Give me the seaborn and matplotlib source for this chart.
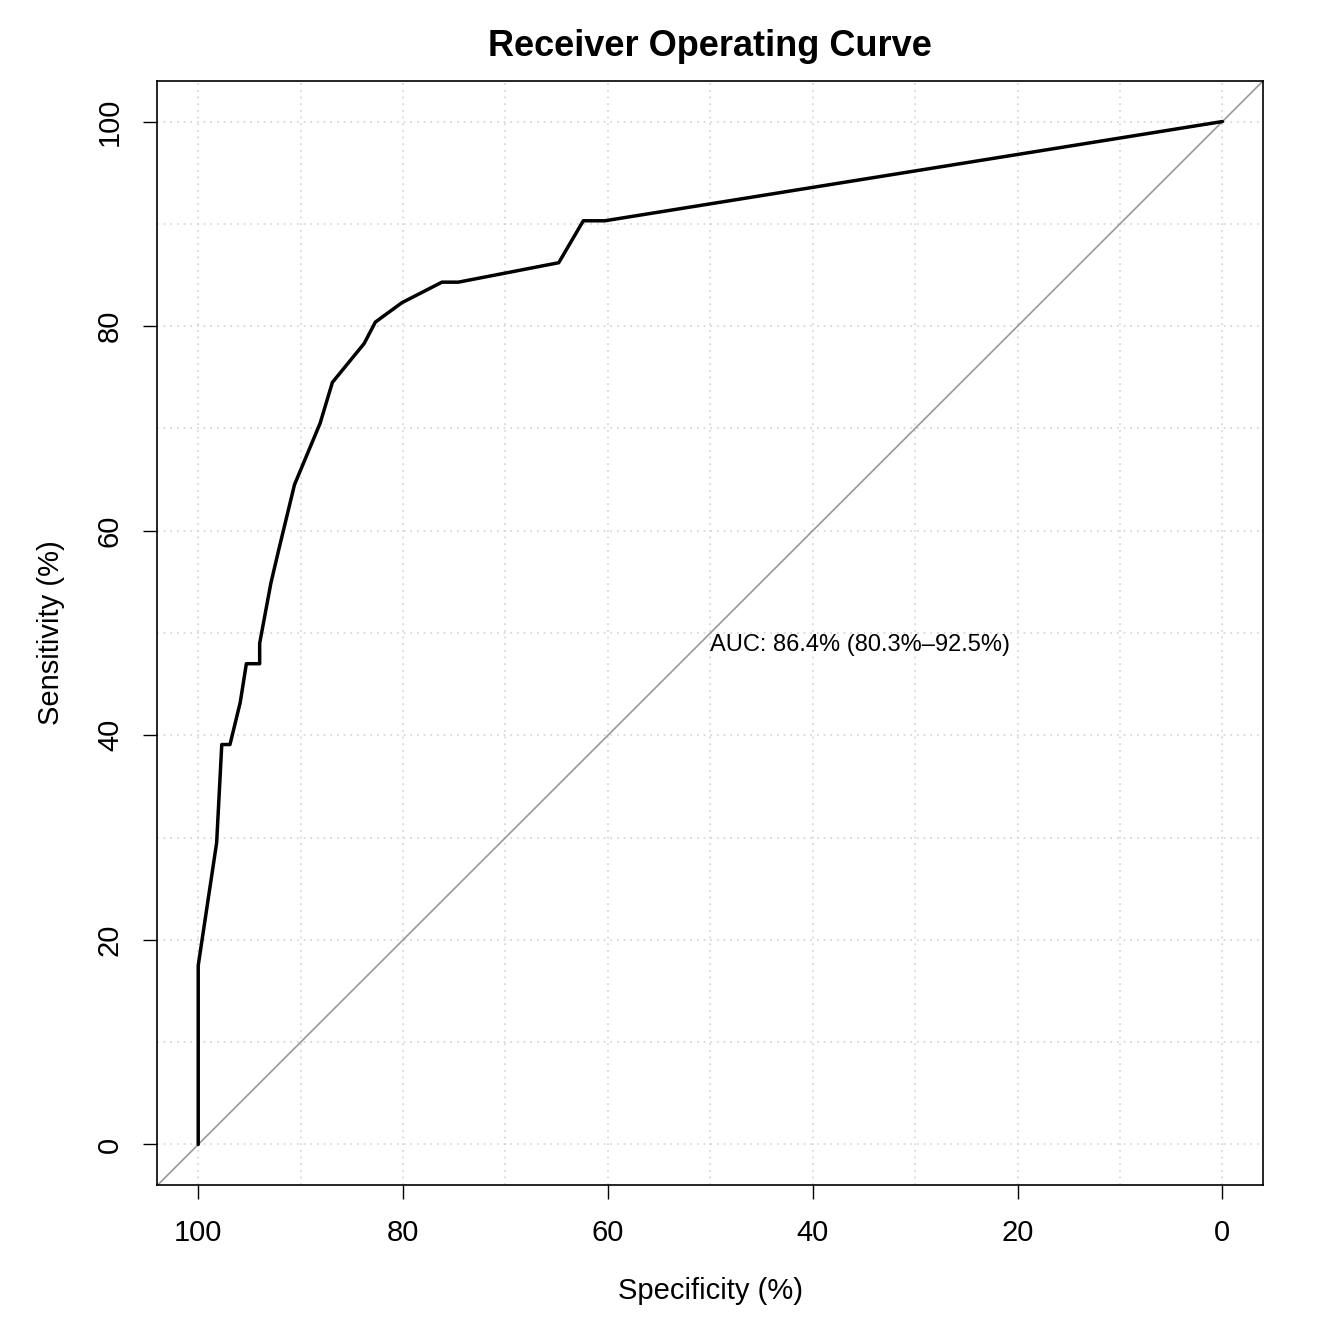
import matplotlib
matplotlib.use("Agg")
import matplotlib.pyplot as plt
import seaborn as sns
import pandas as pd

# ROC curve points
specificity = [100, 100, 98.2, 97.7, 96.9, 95.9, 95.3, 94.0, 94.0, 92.9, 92.1, 90.6,
               88.1, 86.9, 83.8, 82.7, 80.1, 76.2, 74.6, 64.8, 62.4, 60.3, 0]
sensitivity = [0, 17.5, 29.5, 39.1, 39.1, 43.2, 47.0, 47.0, 49.0, 54.9, 58.3, 64.5,
               70.5, 74.5, 78.3, 80.4, 82.3, 84.3, 84.3, 86.2, 90.3, 90.3, 100]
auc_label = "AUC: 86.4% (80.3%\u201392.5%)"

df = pd.DataFrame({"spec": specificity, "sens": sensitivity})

sns.set_style("white")
plt.rcParams["font.family"] = ["Liberation Sans", "DejaVu Sans"]
plt.rcParams["text.color"] = "black"
plt.rcParams["axes.labelcolor"] = "black"

fig = plt.figure(figsize=(13.44, 13.44), dpi=100)
ax = fig.add_axes([0.117, 0.118, 0.823, 0.822])

# grid
for v in range(0, 101, 10):
    ax.axvline(v, color="#d3d3d3", lw=1.2, ls=(0, (1, 3)), zorder=0)
    ax.axhline(v, color="#d3d3d3", lw=1.2, ls=(0, (1, 3)), zorder=0)

ax.plot([104, -4], [-4, 104], color="#999999", lw=1.2, zorder=1)
sns.lineplot(data=df, x="spec", y="sens", sort=False, estimator=None,
             color="black", lw=2.5, ax=ax, zorder=2)

ax.set_xlim(104, -4)
ax.set_ylim(-4, 104)
ax.set_xticks(range(0, 101, 20))
ax.set_yticks(range(0, 101, 20))
ax.tick_params(axis="both", direction="out", length=10, width=1, labelsize=21,
               pad=14, left=True, bottom=True, colors="black")
plt.setp(ax.get_yticklabels(), rotation=90, va="center")
for s in ax.spines.values():
    s.set_color("black")
    s.set_linewidth(1.2)

ax.text(50, 48.8, auc_label, ha="left", va="center", fontsize=17)
ax.set_xlabel("Specificity (%)", fontsize=21, labelpad=22)
ax.set_ylabel("Sensitivity (%)", fontsize=21, labelpad=22)
ax.set_title("Receiver Operating Curve", fontsize=26, fontweight="bold", pad=18)

fig.savefig("out.png", dpi=100)
